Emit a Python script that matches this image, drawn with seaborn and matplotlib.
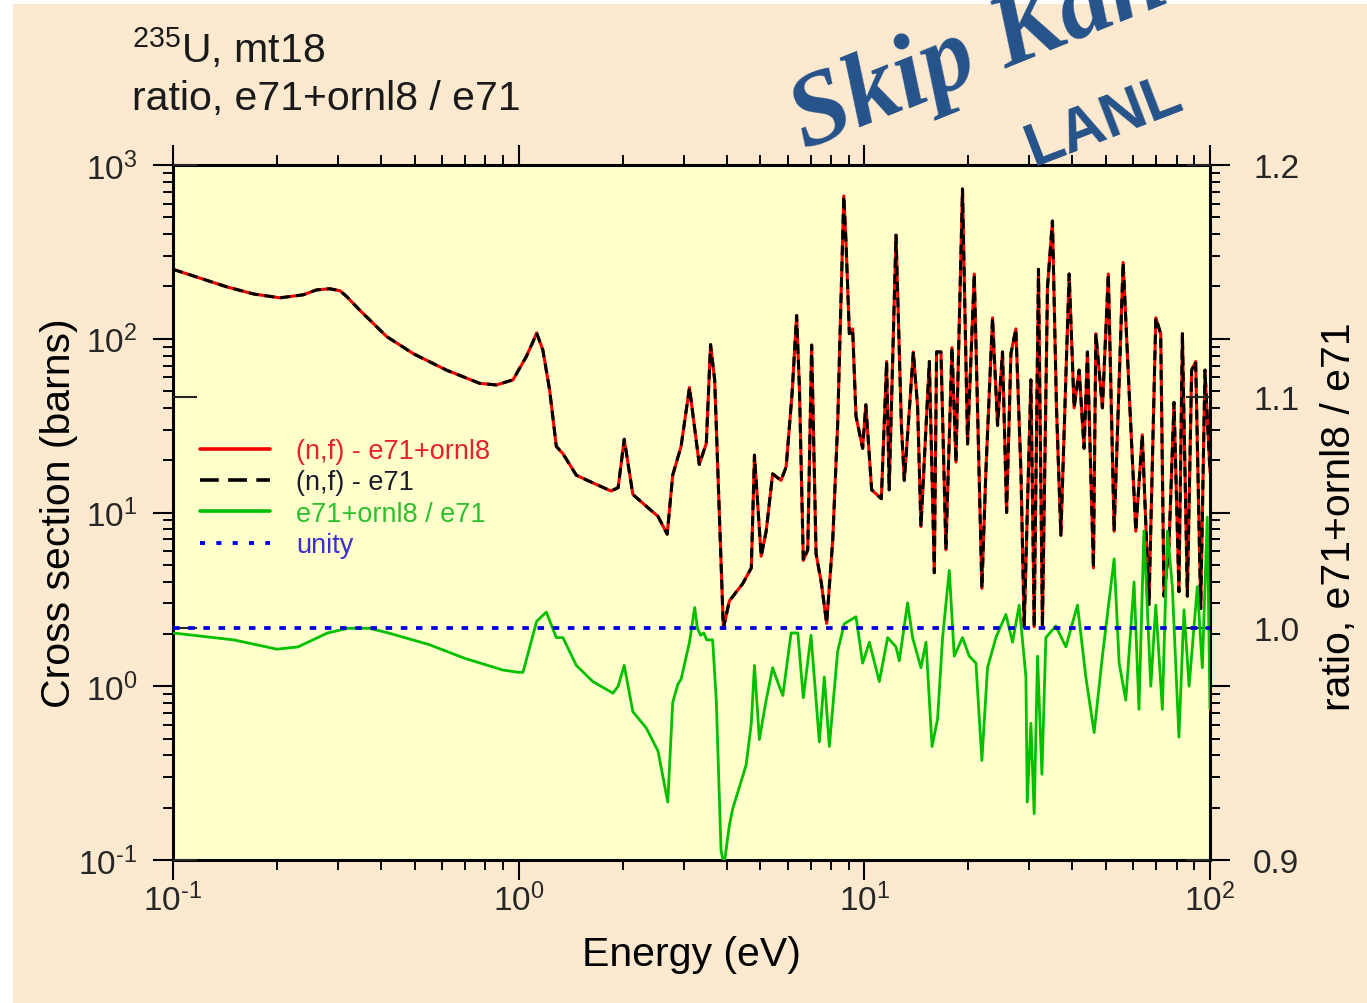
import matplotlib
matplotlib.use("Agg")
import matplotlib.pyplot as plt
from matplotlib.lines import Line2D
from matplotlib.patches import Rectangle
from matplotlib.ticker import (FixedLocator, FormatStrFormatter, NullFormatter,
                               LogLocator, FuncFormatter)
import numpy as np
import pandas as pd
import seaborn as sns

# ---------------- data ----------------
# Fission cross section (barns) vs neutron energy (eV)
xs_energy = [0.100, 0.143, 0.171, 0.204, 0.238, 0.260, 0.284, 0.304, 0.318, 0.347,
             0.415, 0.496, 0.618, 0.771, 0.862, 0.963, 1.052, 1.100, 1.127, 1.175,
             1.229, 1.285, 1.343, 1.468, 1.64, 1.85, 1.94, 2.02, 2.14, 2.36,
             2.53, 2.69, 2.79, 2.95, 3.12, 3.33, 3.49, 3.59, 3.69, 3.91,
             4.07, 4.45, 4.71, 4.81, 5.03, 5.20, 5.43, 5.74, 5.94, 6.18,
             6.37, 6.49, 6.66, 6.86, 7.04, 7.25, 7.50, 7.78, 8.10, 8.37,
             8.72, 8.85, 9.05, 9.25, 9.46, 9.89, 10.1, 10.5, 11.2, 11.6,
             11.8, 12.35, 12.8, 13.05, 13.34, 13.86, 14.26, 14.58, 15.42, 15.94,
             16.18, 16.66, 17.22, 17.93, 18.41, 19.23, 19.89, 20.8, 21.88, 22.47,
             23.49, 24.29, 25.10, 25.8, 26.55, 27.44, 28.38, 29.0, 30.33, 31.0,
             31.9, 32.75, 33.87, 35.01, 35.96, 37.03, 39.13, 40.45, 41.82, 43.23,
             44.2, 46.0, 46.75, 48.84, 50.8, 52.8, 56.07, 58.3, 61.0, 63.7,
             66.6, 69.7, 72.0, 73.6, 76.1, 78.7, 81.3, 83.2, 86.0, 88.5,
             90.9, 94.0, 96.7, 100.0]
xs_e71 = [251, 199, 181, 172, 179, 191, 194, 189, 175, 146,
          103, 82, 66, 55.4, 54.2, 58, 79, 96, 108, 86,
          50.7, 24, 21.8, 16.4, 14.8, 13.3, 13.9, 26.4, 12.7, 10.7,
          9.5, 7.5, 16.4, 24, 52.4, 18.9, 25, 92.5, 58, 2.15,
          3.1, 3.9, 4.8, 21.4, 5.6, 7.8, 16.7, 15.3, 18.3, 48.5,
          136, 51.6, 5.3, 6.1, 92, 5.8, 4.0, 2.3, 6.9, 31.7,
          664, 361, 107, 114, 35.8, 23.4, 41.7, 13.5, 12.0, 74,
          13.5, 395, 31.7, 15.3, 28, 84, 40.5, 8.3, 74, 4.5,
          84, 84, 6.1, 89, 19.5, 728, 24.8, 236, 3.66, 17.2,
          132, 31.7, 84, 10, 82, 114, 17.2, 2.2, 58, 2.2,
          251, 2.2, 197, 476, 40.5, 7.4, 236, 40, 66, 23.4,
          84, 4.8, 107, 40, 236, 7.8, 275, 51.6, 7.8, 28,
          2.95, 132, 107, 3.3, 6.5, 43, 3.5, 107, 3.3, 66,
          74, 2.8, 66, 17]
xs_e71_ornl8 = list(xs_e71)

# Ratio e71+ornl8 / e71
ratio_energy = [0.100, 0.150, 0.200, 0.230, 0.280, 0.320, 0.370, 0.420, 0.550, 0.700,
                0.900, 1.000, 1.029, 1.127, 1.202, 1.285, 1.343, 1.468, 1.64, 1.874,
                1.94, 2.02, 2.14, 2.34, 2.53, 2.70, 2.79, 2.89, 2.95, 3.12,
                3.23, 3.29, 3.36, 3.43, 3.50, 3.64, 3.73, 3.85, 3.93, 4.07,
                4.16, 4.55, 4.71, 4.81, 4.97, 5.20, 5.43, 5.61, 5.81, 6.14,
                6.42, 6.66, 7.01, 7.41, 7.66, 7.92, 8.37, 8.75, 9.46, 9.89,
                10.34, 11.05, 11.68, 12.35, 12.62, 13.34, 13.79, 14.58, 15.08, 15.7,
                16.29, 16.84, 17.61, 18.2, 19.23, 20.12, 21.03, 21.88, 22.72, 24.02,
                25.67, 26.84, 28.05, 29.34, 29.6, 30.33, 31.0, 31.7, 32.64, 33.51,
                35.8, 38.28, 41.36, 43.73, 46.21, 48.84, 52.8, 54.6, 57.07, 60.3,
                62.3, 64.4, 67.4, 69.7, 72.8, 75.3, 77.8, 81.3, 84.1, 87.0,
                91.9, 95.0, 98.2, 100.0]
ratio = [0.998, 0.995, 0.991, 0.992, 0.998, 1.000, 1.000, 0.998, 0.993, 0.987,
         0.982, 0.981, 0.981, 1.003, 1.007, 0.996, 0.996, 0.984, 0.977, 0.972,
         0.975, 0.984, 0.964, 0.957, 0.947, 0.925, 0.968, 0.976, 0.978, 0.994,
         1.009, 1.000, 0.997, 0.998, 0.995, 0.995, 0.969, 0.904, 0.898, 0.915,
         0.922, 0.941, 0.959, 0.984, 0.952, 0.969, 0.983, 0.977, 0.971, 0.998,
         0.998, 0.970, 0.997, 0.951, 0.979, 0.949, 0.990, 1.002, 1.005, 0.985,
         0.994, 0.977, 0.996, 0.992, 0.986, 1.011, 0.996, 0.983, 0.994, 0.949,
         0.961, 0.996, 1.025, 0.988, 0.996, 0.988, 0.985, 0.943, 0.983, 0.996,
         1.006, 0.994, 1.010, 0.979, 0.925, 0.959, 0.920, 0.988, 0.937, 0.996,
         1.001, 0.992, 1.010, 0.979, 0.955, 0.988, 1.030, 0.985, 0.969, 1.020,
         0.965, 1.042, 0.975, 1.010, 0.965, 1.042, 1.018, 0.953, 1.008, 0.975,
         1.018, 0.983, 1.048, 0.965]

unity_energy = [0.1, 100.0]
unity = [1.0, 1.0]

legend_labels = ["(n,f) - e71+ornl8", "(n,f) - e71", "e71+ornl8 / e71", "unity"]

# ---------------- style ----------------
PEACH = "#FDE9CF"
PANEL = "#FFFFCC"
RED = "#F00000"
GREEN = "#00C000"
BLUE = "#0000E0"
INK = "#262626"
WATERMARK = "#24528A"

sns.set_theme(style="ticks")
plt.rcParams["font.family"] = ["Liberation Sans", "DejaVu Sans"]
plt.rcParams["mathtext.default"] = "regular"
plt.rcParams["axes.unicode_minus"] = False


def decade_label(value, pos):
    # power-of-ten label with a plain hyphen in the exponent
    exp = int(round(np.log10(value)))
    txt = str(exp).replace("-", "\u2010")
    return r"$10^{%s}$" % txt


W, H = 1367, 1004
fig = plt.figure(figsize=(W / 100, H / 100), dpi=100, facecolor="white")
fig.add_artist(Rectangle((13 / W, 0), 1, (H - 5) / H, transform=fig.transFigure,
                         facecolor=PEACH, edgecolor="none", zorder=-5))

L, R, T, B = 173, 1210, 166, 861
ax = fig.add_axes([L / W, 1 - B / H, (R - L) / W, (B - T) / H])
ax.set_facecolor(PANEL)

xs_df = pd.DataFrame({"energy": xs_energy, "e71": xs_e71, "e71_ornl8": xs_e71_ornl8})
ratio_df = pd.DataFrame({"energy": ratio_energy, "ratio": ratio})
unity_df = pd.DataFrame({"energy": unity_energy, "unity": unity})

sns.lineplot(data=xs_df, x="energy", y="e71_ornl8", ax=ax, color=RED, lw=2.2,
             estimator=None, sort=False, legend=False)
sns.lineplot(data=xs_df, x="energy", y="e71", ax=ax, color="black", lw=2.2,
             linestyle=(0, (3.2, 2.0)), estimator=None, sort=False, legend=False)
ax.set_xscale("log")
ax.set_yscale("log")

# ratio axis (shares the energy axis)
ax2 = ax.twinx()
sns.lineplot(data=ratio_df, x="energy", y="ratio", ax=ax2, color=GREEN, lw=2.0,
             estimator=None, sort=False, legend=False)
sns.lineplot(data=unity_df, x="energy", y="unity", ax=ax2, color=BLUE, lw=2.7,
             linestyle=(0, (1.75, 2.3)), estimator=None, sort=False, legend=False)

# energy / cross-section axis formatting (after all plotting on the shared x)
ax.set_xlim(0.1, 100)
ax.set_ylim(0.1, 1000)
ax.xaxis.set_major_locator(LogLocator(base=10, numticks=10))
ax.yaxis.set_major_locator(LogLocator(base=10, numticks=10))
ax.xaxis.set_minor_locator(LogLocator(base=10, subs=range(2, 10), numticks=20))
ax.yaxis.set_minor_locator(LogLocator(base=10, subs=range(2, 10), numticks=20))
ax.xaxis.set_major_formatter(FuncFormatter(decade_label))
ax.yaxis.set_major_formatter(FuncFormatter(decade_label))
ax.xaxis.set_minor_formatter(NullFormatter())
ax.yaxis.set_minor_formatter(NullFormatter())

for sp in ax.spines.values():
    sp.set_linewidth(2.2)
    sp.set_color("black")
    sp.set_visible(True)

ax.tick_params(which="major", direction="out", length=14.5, width=1.5, color="black",
               top=True, right=True, labelright=False, labeltop=False,
               labelsize=24, labelcolor=INK)
ax.tick_params(axis="x", which="major", pad=2)
ax.tick_params(axis="y", which="major", pad=11)
ax.tick_params(which="minor", direction="out", length=7.5, width=1.4, color="black",
               top=True, right=True)

ax.set_xlabel("Energy (eV)", fontsize=29.5, color="black")
ax.xaxis.set_label_coords(0.5, -(936 - B) / (B - T))
ax.set_ylabel("Cross section (barns)", fontsize=29.5, color="black")
ax.yaxis.set_label_coords(-(L - 78) / (R - L), 0.5007)

ax2.set_ylim(0.9, 1.2)
ax2.yaxis.set_major_locator(FixedLocator([0.9, 1.0, 1.1, 1.2]))
ax2.yaxis.set_major_formatter(FormatStrFormatter("%.1f"))
ax2.yaxis.set_minor_locator(FixedLocator([]))
ax2.yaxis.set_ticks_position("both")
ax2.tick_params(axis="y", which="major", direction="in", length=17, width=1.5,
                left=True, right=True, labelleft=False, labelright=True,
                pad=31, labelsize=24, labelcolor=INK)
for sp in ax2.spines.values():
    sp.set_visible(False)
ax2.set_ylabel("ratio, e71+ornl8 / e71", fontsize=29.5, color="black")
ax2.yaxis.set_label_coords((1320 - L) / (R - L), 0.496)

handles = [
    Line2D([], [], color=RED, lw=2.6),
    Line2D([], [], color="black", lw=2.6, linestyle=(0, (5.2, 2.6))),
    Line2D([], [], color=GREEN, lw=2.6),
    Line2D([], [], color=BLUE, lw=2.8, linestyle=(0, (1.3, 2.9))),
]
ax2.legend(handles, legend_labels, loc="upper left",
           bbox_to_anchor=((200 - L) / (R - L), (B - 439) / (B - T)),
           frameon=False, fontsize=19.5, handlelength=2.6, handletextpad=0.95,
           labelspacing=0.2, borderpad=0.0, borderaxespad=0.0,
           labelcolor=["#E8202A", "#1A1A2E", "#2EBE2E", "#3B2FD0"])

# header
fig.text(132 / W, 1 - 63 / H, r"$^{235}$U, mt18", fontsize=29.5, color="#1A1A1A",
         ha="left", va="baseline")
fig.text(132 / W, 1 - 110 / H, "ratio, e71+ornl8 / e71", fontsize=29.5, color="#1A1A1A",
         ha="left", va="baseline")

# author stamp
fig.text(805 / W, 1 - 150 / H, "Skip Kahler", fontsize=75, fontstyle="italic",
         fontweight="bold", family="Liberation Serif", color=WATERMARK,
         rotation=22, rotation_mode="anchor", ha="left", va="baseline", zorder=10)
fig.text(1034 / W, 1 - 166 / H, "LANL", fontsize=44, fontweight="bold",
         family="Liberation Sans", color=WATERMARK,
         rotation=21, rotation_mode="anchor", ha="left", va="baseline", zorder=10)

fig.savefig("out.png", dpi=100, facecolor=fig.get_facecolor())
